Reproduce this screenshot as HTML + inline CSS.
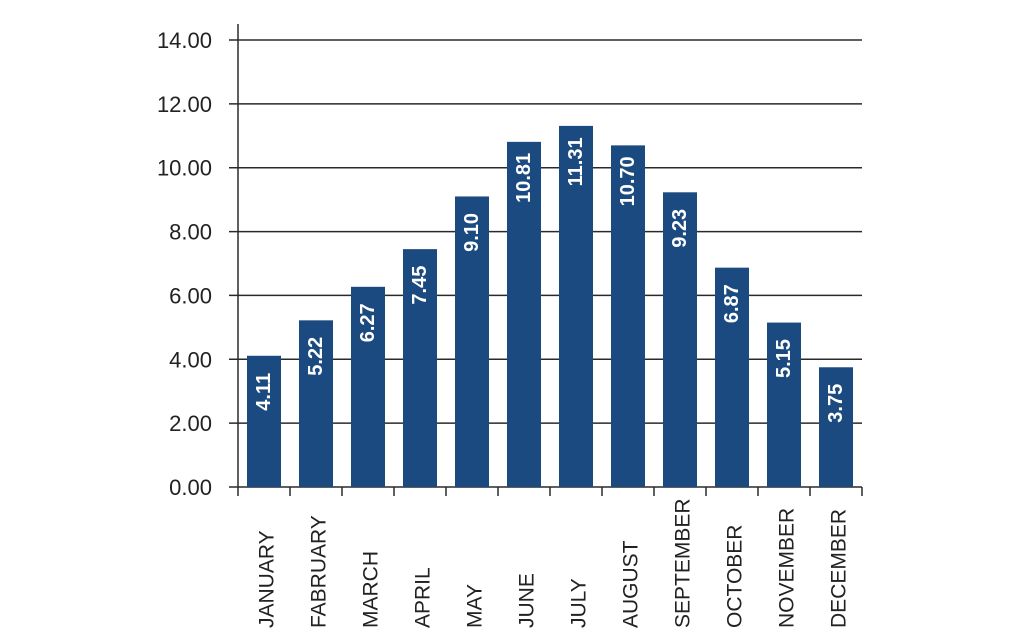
<!DOCTYPE html>
<html><head><meta charset="utf-8"><style>
body{margin:0;background:#fff;}
svg{display:block;font-family:"Liberation Sans",sans-serif;}
</style></head><body>
<svg id="chart" width="1024" height="640" viewBox="0 0 1024 640" xmlns="http://www.w3.org/2000/svg"></svg>
<script>
const categories=["JANUARY","FABRUARY","MARCH","APRIL","MAY","JUNE","JULY","AUGUST","SEPTEMBER","OCTOBER","NOVEMBER","DECEMBER"];
const values=[4.11,5.22,6.27,7.45,9.10,10.81,11.31,10.70,9.23,6.87,5.15,3.75];
const valueLabels=["4.11","5.22","6.27","7.45","9.10","10.81","11.31","10.70","9.23","6.87","5.15","3.75"];
const yTicks=[0,2,4,6,8,10,12,14];
const yTickLabels=["0.00","2.00","4.00","6.00","8.00","10.00","12.00","14.00"];

const svg=document.getElementById('chart');
const NS="http://www.w3.org/2000/svg";
const X0=238,X1=862,Y0=487,Y1=40,YMAX=14;
const band=(X1-X0)/categories.length;
const y=v=>Y0-(v/YMAX)*(Y0-Y1);
const xc=i=>X0+band*(i+0.5);
function mk(tag,attrs){const e=document.createElementNS(NS,tag);for(const k in attrs)e.setAttribute(k,attrs[k]);svg.appendChild(e);return e;}

yTicks.forEach((t,i)=>{
  const g=mk('line',{x1:229,x2:X1,y1:y(t),y2:y(t),stroke:'#2a2a2a','stroke-width':1.5});
  
  
  const tx=mk('text',{x:212,y:y(t)+8,'text-anchor':'end','font-size':22,fill:'#222'});
  tx.textContent=yTickLabels[i];
  
  
});
const ax=mk('line',{x1:X0,x2:X0,y1:24,y2:Y0,stroke:'#2a2a2a','stroke-width':1.5});


for(let i=0;i<=categories.length;i++){
  const tk=mk('line',{x1:X0+band*i,x2:X0+band*i,y1:Y0,y2:496,stroke:'#2a2a2a','stroke-width':1.5});
  
  
}
values.forEach((v,i)=>{
  const w=34;
  const b=mk('rect',{x:xc(i)-w/2,y:y(v),width:w,height:Y0-y(v),fill:'#1b4a80'});
  
  
  const cy=y(v)+36;
  const t=mk('text',{x:xc(i),y:cy,'text-anchor':'middle','dominant-baseline':'central','font-size':20,'font-weight':'bold',fill:'#fff',transform:`rotate(-90 ${xc(i)} ${cy})`});
  t.textContent=valueLabels[i];
  
  
  const lx=xc(i)+3,ly=628;
  const c=mk('text',{x:lx,y:ly,'text-anchor':'start','dominant-baseline':'central','font-size':21,fill:'#222',transform:`rotate(-90 ${lx} ${ly})`});
  c.textContent=categories[i];
  
  
});
</script>
</body></html>
